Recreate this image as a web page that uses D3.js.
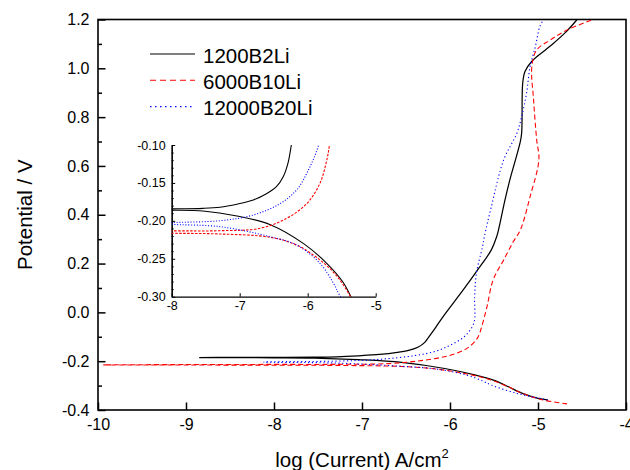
<!DOCTYPE html>
<html>
<head>
<meta charset="utf-8">
<script src="https://cdn.jsdelivr.net/npm/d3@7"></script>
<style>
  body { margin: 0; background: #fff; }
  text { font-family: "Liberation Sans", Arial, sans-serif; fill: #000; }
</style>
</head>
<body>
<div id="plot"></div>
<script>
// series names (legend order)
var seriesNames = ['1200B2Li', '6000B10Li', '12000B20Li']

// [log(current), potential], cathodic end -> Ecorr -> anodic end
var b2Li = [
  [-4.89, -0.359], [-5.0, -0.352], [-5.17, -0.333], [-5.33, -0.306], [-5.48, -0.281],
  [-5.72, -0.256], [-6.06, -0.23], [-6.55, -0.205], [-7.04, -0.1936], [-7.54, -0.187],
  [-8.0, -0.186], [-8.5, -0.1857], [-8.85, -0.1855],
  [-8.5, -0.1844], [-8.0, -0.1842], [-7.54, -0.1835], [-7.29, -0.182], [-7.04, -0.178],
  [-6.8, -0.1725], [-6.6, -0.164], [-6.46, -0.155], [-6.36, -0.142], [-6.29, -0.124],
  [-6.24, -0.10], [-6.16, -0.06], [-6.08, -0.018], [-5.85, 0.092], [-5.7, 0.167],
  [-5.53, 0.256], [-5.47, 0.31], [-5.45, 0.336], [-5.375, 0.461], [-5.32, 0.543],
  [-5.205, 0.693], [-5.186, 0.734], [-5.174, 0.939], [-5.148, 0.987], [-5.072, 1.028],
  [-4.864, 1.09], [-4.693, 1.145], [-4.56, 1.198]
]
var b10Li = [
  [-4.67, -0.375], [-4.94, -0.359], [-5.17, -0.333], [-5.33, -0.306], [-5.57, -0.273],
  [-5.82, -0.2516], [-6.16, -0.232], [-6.55, -0.2217], [-7.29, -0.2173], [-8.0, -0.2164],
  [-9.0, -0.2157], [-9.94, -0.2152],
  [-9.0, -0.2138], [-8.0, -0.2132], [-7.29, -0.213], [-6.7, -0.2098], [-6.31, -0.1967],
  [-6.01, -0.177], [-5.82, -0.1505], [-5.73, -0.124], [-5.68, -0.10], [-5.64, -0.059],
  [-5.58, 0.023], [-5.51, 0.133], [-5.39, 0.215], [-5.28, 0.29], [-5.2, 0.338],
  [-5.09, 0.474], [-4.99, 0.625], [-5.015, 0.707], [-5.05, 0.87], [-5.07, 1.007],
  [-5.015, 1.075], [-4.86, 1.116], [-4.67, 1.157], [-4.39, 1.198]
]
var b20Li = [
  [-4.89, -0.359], [-4.98, -0.352], [-5.24, -0.332], [-5.53, -0.298], [-5.62, -0.2823],
  [-5.82, -0.256], [-6.16, -0.232], [-6.55, -0.221], [-7.29, -0.2077], [-8.0, -0.2046],
  [-8.12, -0.2035],
  [-8.0, -0.2024], [-7.29, -0.1998], [-6.8, -0.1923], [-6.4, -0.177], [-6.16, -0.159],
  [-5.99, -0.133], [-5.84, -0.10], [-5.73, -0.045], [-5.72, 0.064], [-5.7, 0.16],
  [-5.63, 0.27], [-5.61, 0.31], [-5.53, 0.433], [-5.39, 0.625], [-5.24, 0.734],
  [-5.186, 0.802], [-5.13, 0.898], [-5.09, 1.007], [-5.03, 1.089], [-4.98, 1.17],
  [-4.94, 1.198]
]

// tick values
var mainXTicks = [-10, -9, -8, -7, -6, -5, -4]
var mainYTicks = [-0.4, -0.2, 0.0, 0.2, 0.4, 0.6, 0.8, 1.0, 1.2]
var mainYMinor = [-0.3, -0.1, 0.1, 0.3, 0.5, 0.7, 0.9, 1.1]
var insetXTicks = [-8, -7, -6, -5]
var insetYTicks = [-0.30, -0.25, -0.20, -0.15, -0.10]
var insetYMinor = [-0.29, -0.28, -0.27, -0.26, -0.24, -0.23, -0.22, -0.21,
  -0.19, -0.18, -0.17, -0.16, -0.14, -0.13, -0.12, -0.11]

var series = [b2Li, b10Li, b20Li]
var styles = [
  { color: '#000000', dash: null, insetDash: null, legendDash: null },
  { color: '#ff0000', dash: '5,3', insetDash: '2.5,1.5', legendDash: '6,4' },
  { color: '#0000ff', dash: '1.2,2.6', insetDash: '1,1.8', legendDash: '1.5,3.5' }
]

var width = 630, height = 470
var svg = d3.select('#plot').append('svg').attr('width', width).attr('height', height)

// main plot scales
var x = d3.scaleLinear().domain([-10, -4]).range([98, 626])
var y = d3.scaleLinear().domain([-0.4, 1.2]).range([410, 19.5])

// inset scales
var xi = d3.scaleLinear().domain([-8, -5]).range([171.7, 375.7])
var yi = d3.scaleLinear().domain([-0.30, -0.10]).range([296.7, 145])

var defs = svg.append('defs')
defs.append('clipPath').attr('id', 'clipMain').append('rect')
  .attr('x', 98).attr('y', 19.5).attr('width', 528).attr('height', 390.5)
defs.append('clipPath').attr('id', 'clipInset').append('rect')
  .attr('x', 171.7).attr('y', 145).attr('width', 204).attr('height', 151.7)

// main axes
var gx = svg.append('g').attr('transform', 'translate(0,410)')
  .call(d3.axisBottom(x).tickValues(mainXTicks).tickSizeInner(-7.5).tickSizeOuter(0)
    .tickPadding(8.5).tickFormat(function (d) { return String(d) }))
var gy = svg.append('g').attr('transform', 'translate(98,0)')
  .call(d3.axisLeft(y).tickValues(mainYTicks).tickSizeInner(-7.5).tickSizeOuter(0)
    .tickPadding(8.5).tickFormat(function (d) { return d.toFixed(1) }))
var gym = svg.append('g').attr('transform', 'translate(98,0)')
  .call(d3.axisLeft(y).tickValues(mainYMinor).tickSizeInner(-4).tickSizeOuter(0).tickFormat(''))
;[gx, gy, gym].forEach(function (g) {
  g.select('.domain').remove()
  g.selectAll('line').attr('stroke', '#000').attr('stroke-width', 1.5)
  g.selectAll('text').attr('font-size', 16).attr('font-family', '"Liberation Sans", Arial, sans-serif')
})

svg.append('rect')
  .attr('x', 98).attr('y', 19.5).attr('width', 528).attr('height', 390.5)
  .attr('fill', 'none').attr('stroke', '#000').attr('stroke-width', 1.6)

// main curves
var line = d3.line().x(function (d) { return x(d[0]) }).y(function (d) { return y(d[1]) })
  .curve(d3.curveCatmullRom.alpha(0.5))
var mainG = svg.append('g').attr('clip-path', 'url(#clipMain)')
mainG.selectAll('path').data(series).enter().append('path')
  .attr('d', line)
  .attr('fill', 'none')
  .attr('stroke', function (d, i) { return styles[i].color })
  .attr('stroke-width', function (d, i) { return i === 0 ? 1.25 : 1.1 })
  .attr('stroke-dasharray', function (d, i) { return styles[i].dash })

// inset axes
var gxi = svg.append('g').attr('transform', 'translate(0,296.7)')
  .call(d3.axisBottom(xi).tickValues(insetXTicks).tickSizeInner(-3.5).tickSizeOuter(0)
    .tickPadding(4.5).tickFormat(function (d) { return String(d) }))
var gyi = svg.append('g').attr('transform', 'translate(171.7,0)')
  .call(d3.axisLeft(yi).tickValues(insetYTicks).tickSizeInner(-3.5).tickSizeOuter(0)
    .tickPadding(6).tickFormat(function (d) { return d.toFixed(2) }))
var gyim = svg.append('g').attr('transform', 'translate(171.7,0)')
  .call(d3.axisLeft(yi).tickValues(insetYMinor).tickSizeInner(-2).tickSizeOuter(0).tickFormat(''))
;[gxi, gyi, gyim].forEach(function (g) {
  g.select('.domain').attr('stroke', '#000').attr('stroke-width', 1.2)
  g.selectAll('line').attr('stroke', '#000').attr('stroke-width', 1)
  g.selectAll('text').attr('font-size', 12.5).attr('font-family', '"Liberation Sans", Arial, sans-serif')
})

// inset curves
var lineIn = d3.line().x(function (d) { return xi(d[0]) }).y(function (d) { return yi(d[1]) })
  .curve(d3.curveCatmullRom.alpha(0.5))
var insetG = svg.append('g').attr('clip-path', 'url(#clipInset)')
insetG.selectAll('path').data(series).enter().append('path')
  .attr('d', lineIn)
  .attr('fill', 'none')
  .attr('stroke', function (d, i) { return styles[i].color })
  .attr('stroke-width', 1.1)
  .attr('stroke-dasharray', function (d, i) { return styles[i].insetDash })

// legend
var legend = svg.append('g').selectAll('g').data(seriesNames).enter().append('g')
  .attr('transform', function (d, i) { return 'translate(150,' + (54 + i * 26.3) + ')' })
legend.append('line')
  .attr('x1', 0).attr('x2', 45).attr('y1', 0).attr('y2', 0)
  .attr('stroke', function (d, i) { return styles[i].color })
  .attr('stroke-width', 1.1)
  .attr('stroke-dasharray', function (d, i) { return styles[i].legendDash })
legend.append('text')
  .attr('x', 53).attr('y', 8.5)
  .attr('font-size', 20.5)
  .text(function (d) { return d })

// axis titles
svg.append('text')
  .attr('transform', 'translate(32,214.7) rotate(-90)')
  .attr('text-anchor', 'middle')
  .attr('font-size', 20.5)
  .text('Potential / V')

var xt = svg.append('text')
  .attr('x', 362).attr('y', 467)
  .attr('text-anchor', 'middle')
  .attr('font-size', 20.5)
xt.append('tspan').text('log (Current) A/cm')
xt.append('tspan').attr('dy', -9).attr('font-size', 13).text('2')
</script>
</body>
</html>
